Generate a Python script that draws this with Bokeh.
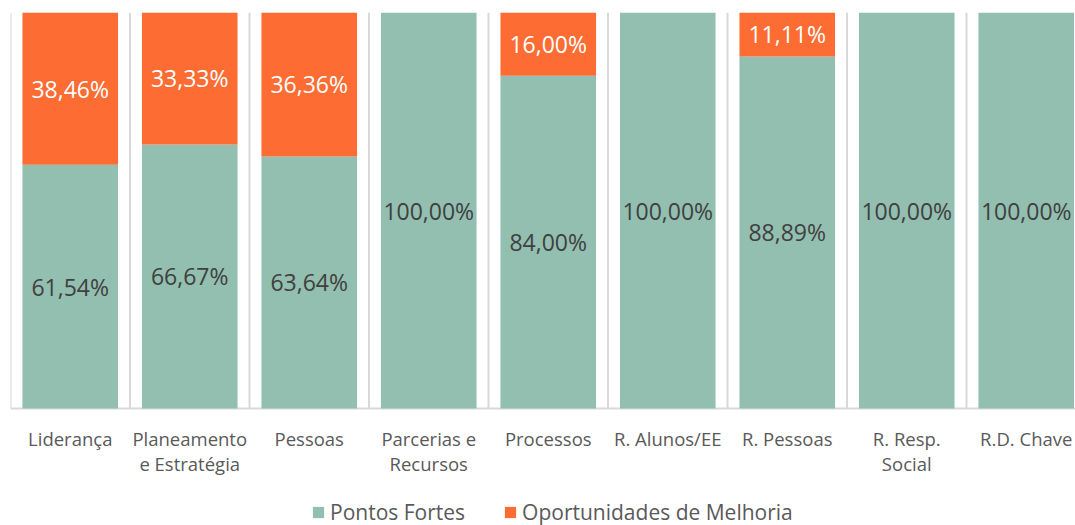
from bokeh.plotting import figure
from bokeh.models import ColumnDataSource, Legend, LegendItem
from bokeh.core.properties import value
from bokeh.embed import file_html
from bokeh.resources import INLINE

categories = ["Liderança", "Planeamento\ne Estratégia", "Pessoas", "Parcerias e\nRecursos",
              "Processos", "R. Alunos/EE", "R. Pessoas", "R. Resp.\nSocial", "R.D. Chave"]
pontos_fortes = [61.54, 66.67, 63.64, 100.00, 84.00, 100.00, 88.89, 100.00, 100.00]
oportunidades = [38.46, 33.33, 36.36, 0.00, 16.00, 0.00, 11.11, 0.00, 0.00]
series_names = ["Pontos Fortes", "Oportunidades de Melhoria"]

GREEN = "#93BFB0"
ORANGE = "#FC6C33"
GRID = "#D9D9D9"
FONT = "Open Sans"

W, H = 1075, 525
LEFT, TOP, ZERO_Y = 10, 12, 408          # pixel positions of plot edges
CAT_W = 119.5                            # pixel width of one category
PX_PER_UNIT = ZERO_Y - TOP               # pixels for 100 %

n = len(categories)
x = [i + 0.5 for i in range(n)]
pf = [v / 100 for v in pontos_fortes]
op = [v / 100 for v in oportunidades]

src = ColumnDataSource(dict(x=x, pf=pf, op=op))

p = figure(width=W, height=H, output_backend="svg", toolbar_location=None,
           x_range=(0, (W - LEFT) / CAT_W),
           y_range=(-(H - ZERO_Y) / PX_PER_UNIT, 1),
           min_border_left=LEFT, min_border_right=0, min_border_top=TOP,
           min_border_bottom=0)
p.outline_line_color = None
p.background_fill_color = "white"
p.xaxis.visible = False
p.yaxis.visible = False
p.xgrid.visible = False
p.ygrid.visible = False

# category separators (vertical grid lines) and baseline
bounds = list(range(n + 1))
p.segment(x0=bounds, y0=[0] * len(bounds), x1=bounds, y1=[1] * len(bounds),
          line_color=GRID, line_width=2)
p.segment(x0=[0], y0=[0], x1=[n], y1=[0], line_color=GRID, line_width=2)

r = p.vbar_stack(["pf", "op"], x="x", width=0.8, source=src, color=[GREEN, ORANGE],
                 line_color=None)

# data labels
lab_g = dict(x=[], y=[], t=[])
lab_o = dict(x=[], y=[], t=[])
for xi, a, b in zip(x, pf, op):
    if a > 0:
        lab_g["x"].append(xi); lab_g["y"].append(a / 2)
        lab_g["t"].append(f"{a*100:.2f}%".replace(".", ","))
    if b > 0:
        lab_o["x"].append(xi); lab_o["y"].append(a + b / 2)
        lab_o["t"].append(f"{b*100:.2f}%".replace(".", ","))
p.text(x="x", y="y", text="t", source=ColumnDataSource(lab_g), text_align="center",
       text_baseline="middle", text_font=value(FONT), text_font_size="23px", text_color="#404040")
p.text(x="x", y="y", text="t", source=ColumnDataSource(lab_o), text_align="center",
       text_baseline="middle", text_font=value(FONT), text_font_size="23px", text_color="white")

# category labels (below baseline)
p.text(x=x, y=[0] * n, text=categories, y_offset=17, text_align="center",
       text_baseline="top", text_font=value(FONT), text_font_size="18.5px",
       text_color="#595959", text_line_height=1.0)

legend = Legend(items=[LegendItem(label=series_names[0], renderers=[r[0]]),
                       LegendItem(label=series_names[1], renderers=[r[1]])],
                orientation="horizontal", location=(301, -1))
legend.padding = 0
legend.margin = 0
legend.spacing = 38
legend.glyph_width = 14
legend.glyph_height = 14
legend.label_standoff = 5
legend.label_text_font = FONT
legend.label_text_font_size = "21px"
legend.label_text_color = "#595959"
legend.border_line_color = None
legend.background_fill_alpha = 0
p.add_layout(legend, "center")

open("out.html", "w").write(file_html(p, INLINE))
